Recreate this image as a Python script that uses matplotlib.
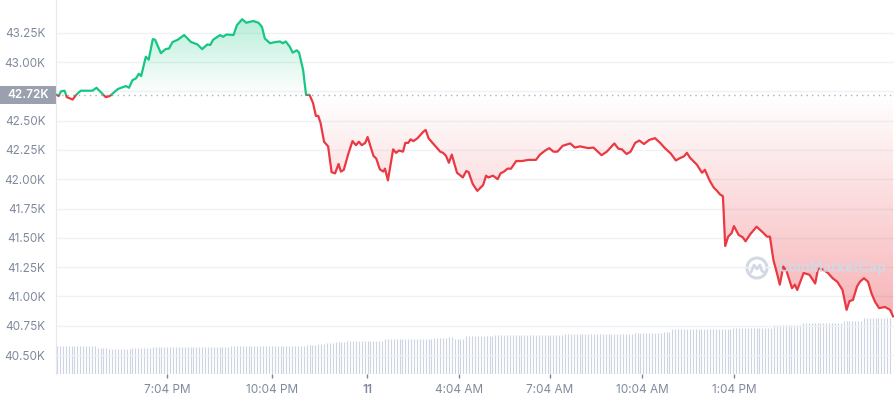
import numpy as np
import matplotlib.pyplot as plt
import matplotlib.colors as mcolors
from matplotlib.patches import Rectangle, Ellipse
from matplotlib.lines import Line2D
from matplotlib.transforms import blended_transform_factory

# price trace, minutes from window start and price in thousands of USD
t_min = [0, 3, 7, 13, 17, 27, 33, 41, 56, 61,
         68, 76, 84, 91, 105, 119, 124, 130, 136, 141,
         145, 153, 158, 165, 169, 179, 187, 193, 199, 208,
         219, 231, 242, 250, 259, 264, 269, 281, 286, 292,
         304, 310, 319, 326, 338, 347, 353, 358, 367, 376,
         384, 389, 394, 401, 406, 413, 417, 424, 429, 435,
         441, 446, 450, 454, 460, 467, 473, 479, 485, 489,
         494, 502, 509, 515, 520, 525, 531, 535, 545, 550,
         556, 562, 565, 570, 579, 584, 589, 596, 600, 605,
         609, 614, 621, 631, 635, 640, 645, 654, 660, 665,
         670, 675, 680, 684, 689, 694, 699, 705, 709, 716,
         724, 734, 739, 743, 751, 759, 764, 770, 776, 782,
         791, 801, 812, 825, 832, 841, 848, 855, 862, 871,
         884, 892, 901, 915, 924, 938, 947, 960, 967, 973,
         981, 988, 996, 1003, 1011, 1020, 1030, 1039, 1047, 1057,
         1066, 1073, 1080, 1085, 1090, 1102, 1111, 1116, 1124, 1131,
         1137, 1142, 1147, 1151, 1156, 1162, 1166, 1174, 1181, 1186,
         1194, 1205, 1216, 1223, 1228, 1234, 1240, 1245, 1251, 1257,
         1266, 1271, 1275, 1286, 1296, 1306, 1311, 1319, 1328, 1336,
         1344, 1353, 1360, 1365, 1371, 1378, 1383, 1390, 1397, 1403,
         1409, 1416, 1426, 1435, 1440]
price_k = [42.72, 42.71, 42.75, 42.755, 42.70, 42.68, 42.72, 42.755, 42.755, 42.755,
           42.78, 42.74, 42.70, 42.71, 42.77, 42.795, 42.78, 42.845, 42.86, 42.90,
           42.88, 43.045, 43.02, 43.195, 43.19, 43.075, 43.11, 43.115, 43.17, 43.19,
           43.23, 43.17, 43.15, 43.11, 43.15, 43.145, 43.19, 43.23, 43.215, 43.235,
           43.23, 43.315, 43.365, 43.335, 43.35, 43.335, 43.30, 43.20, 43.16, 43.17,
           43.175, 43.16, 43.175, 43.13, 43.08, 43.10, 43.08, 42.93, 42.72, 42.72,
           42.65, 42.54, 42.54, 42.48, 42.32, 42.28, 42.06, 42.05, 42.13, 42.065,
           42.08, 42.22, 42.325, 42.29, 42.32, 42.29, 42.31, 42.36, 42.20, 42.175,
           42.085, 42.065, 42.09, 41.99, 42.255, 42.225, 42.245, 42.235, 42.31, 42.31,
           42.34, 42.325, 42.35, 42.405, 42.42, 42.35, 42.32, 42.27, 42.235, 42.225,
           42.20, 42.14, 42.21, 42.14, 42.055, 42.035, 42.015, 42.07, 42.06, 41.96,
           41.90, 41.95, 42.03, 42.015, 42.03, 42.00, 42.05, 42.065, 42.09, 42.09,
           42.155, 42.155, 42.165, 42.165, 42.21, 42.245, 42.265, 42.235, 42.235, 42.285,
           42.305, 42.27, 42.28, 42.265, 42.27, 42.205, 42.235, 42.305, 42.26, 42.255,
           42.215, 42.235, 42.31, 42.33, 42.30, 42.335, 42.35, 42.31, 42.265, 42.22,
           42.16, 42.18, 42.195, 42.225, 42.185, 42.125, 42.055, 42.08, 41.99, 41.93,
           41.90, 41.87, 41.855, 41.43, 41.51, 41.54, 41.60, 41.525, 41.505, 41.47,
           41.53, 41.595, 41.545, 41.51, 41.51, 41.31, 41.20, 41.10, 41.255, 41.21,
           41.07, 41.10, 41.055, 41.20, 41.185, 41.11, 41.24, 41.23, 41.20, 41.155,
           41.125, 41.055, 40.885, 40.96, 40.97, 41.085, 41.125, 41.155, 41.125, 41.025,
           40.955, 40.90, 40.91, 40.885, 40.83]
open_price_k = 42.72

# volume bars (5 minute buckets), runs of equal height
vol_levels = [14.2, 13.2, 12.5, 12.8, 13.7, 14.2, 14.7, 15.0, 15.5, 16.2, 16.5, 17.3, 18.0,
              18.7, 17.5, 19.0, 19.5, 20.0, 20.5, 21.0, 22.5, 23.0, 24.5, 25.5, 26.5, 27.8]
vol_counts = [14, 4, 8, 7, 27, 26, 4, 3, 3, 4, 13, 17, 5,
              2, 4, 10, 24, 24, 10, 3, 21, 14, 10, 14, 7, 10]
vol_step_min = 5

y_ticks = [40.50, 40.75, 41.00, 41.25, 41.50, 41.75, 42.00, 42.25, 42.50, 42.75, 43.00, 43.25]
x_tick_pos = [189.5, 370.4, 534.0, 692.5, 849.2, 1007.7, 1166.2]
x_tick_labels = ['7:04 PM', '10:04 PM', '11', '4:04 AM', '7:04 AM', '10:04 AM', '1:04 PM']

GREEN = '#16c784'
RED = '#ea3943'
GRID = '#eff2f5'
LABEL = '#808a9d'

plt.rcParams['font.family'] = ['Inter', 'DejaVu Sans']


def gradient_fill(ax, x, y_edge, base, color, a_far, up):
    """ Fill between base and y_edge with an alpha ramp growing away from base """
    poly = ax.fill_between(x, base, y_edge, facecolor='none', edgecolor='none')
    grad = np.zeros((256, 1, 4))
    grad[..., :3] = mcolors.to_rgb(color)
    grad[:, 0, 3] = np.linspace(0, a_far, 256) if up else np.linspace(a_far, 0, 256)
    lo, hi = (base, y_edge.max()) if up else (y_edge.min(), base)
    im = ax.imshow(grad, extent=[x.min(), x.max(), lo, hi], origin='lower',
                   aspect='auto', interpolation='bilinear', zorder=1)
    im.set_clip_path(poly.get_paths()[0], transform=ax.transData)


t = np.array(t_min, dtype=float)
p = np.array(price_k)
vol = np.repeat(vol_levels, vol_counts)
t_vol = np.arange(len(vol)) * vol_step_min

fig = plt.figure(figsize=(8.96, 4.0), dpi=100)
ax = fig.add_axes([56 / 896, 26 / 400, 838 / 896, 374 / 400])
vax = ax.twinx()

# volume underneath
vax.vlines(t_vol, 0, vol, color='#cdd5e4', lw=0.8)
vax.set_ylim(0, 187)
vax.axis('off')
ax.set_zorder(vax.get_zorder() + 1)
ax.patch.set_visible(False)

xlim = (-1.7, 1441.7)
ylim = (40.338, 43.529)

gradient_fill(ax, t, np.maximum(p, open_price_k), open_price_k, GREEN, 0.30, True)
gradient_fill(ax, t, np.minimum(p, open_price_k), open_price_k, RED, 0.38, False)

ax.axhline(open_price_k, color='#a7b0c0', lw=1, ls=(0, (1, 3)), zorder=2)

# green above the open, red below
above = Rectangle((xlim[0], open_price_k), xlim[1] - xlim[0], ylim[1] - open_price_k,
                  transform=ax.transData)
below = Rectangle((xlim[0], ylim[0]), xlim[1] - xlim[0], open_price_k - ylim[0],
                  transform=ax.transData)
ln_g, = ax.plot(t, p, color=GREEN, lw=1.6, zorder=3, solid_joinstyle='round')
ln_g.set_clip_path(above)
ln_r, = ax.plot(t, p, color=RED, lw=1.6, zorder=3, solid_joinstyle='round')
ln_r.set_clip_path(below)

ax.set_xlim(*xlim)
ax.set_ylim(*ylim)

ax.set_yticks(y_ticks, ['' if abs(v - 42.75) < 1e-9 else f'{v:.2f}K' for v in y_ticks])
ax.grid(axis='y', color=GRID, lw=1)
ax.set_axisbelow(True)
ax.tick_params(axis='y', length=0, pad=7.5, labelsize=8.5, labelcolor=LABEL)

ax.set_xticks(x_tick_pos, x_tick_labels)
ax.tick_params(axis='x', length=3, width=1, color='#7a8499', pad=4, labelsize=8.5,
               labelcolor=LABEL)
ax.get_xticklabels()[2].set_fontweight('semibold')

for s in ['top', 'right', 'bottom']:
    ax.spines[s].set_visible(False)
ax.spines['left'].set_color('#e6e9ee')

# open price marker on the y axis
trans = blended_transform_factory(fig.transFigure, ax.transData)
fig.add_artist(Rectangle((0, open_price_k - 0.077), 56 / 896, 0.154, transform=trans,
                         facecolor='#9aa0ae', edgecolor='none'))
ax.text(28 / 896, open_price_k, f'{open_price_k:.2f}K', transform=trans, ha='center',
        va='center', color='white', fontsize=8.5, fontweight='semibold')

# watermark: ring logo with a wave, then the name
wm = '#d3d9e4'
cx, cy = 757 / 896, 1 - 268 / 400
fig.add_artist(Ellipse((cx, cy), 20 / 896, 20 / 400, transform=fig.transFigure,
                       fill=False, edgecolor=wm, lw=2.2))
wave_dx = [-6, -3, 0, 3, 5, 8]
wave_dy = [-4, 3, -1, 3, -3, -5]
fig.add_artist(Line2D([cx + d / 896 for d in wave_dx], [cy + d / 400 for d in wave_dy],
                      transform=fig.transFigure, color=wm, lw=2.0,
                      solid_joinstyle='round', solid_capstyle='round'))
fig.text(778 / 896, cy, 'CoinMarketCap', ha='left', va='center', color=wm,
         fontsize=10.2, fontweight='bold', alpha=0.9)

fig.savefig('out.png', dpi=100)
